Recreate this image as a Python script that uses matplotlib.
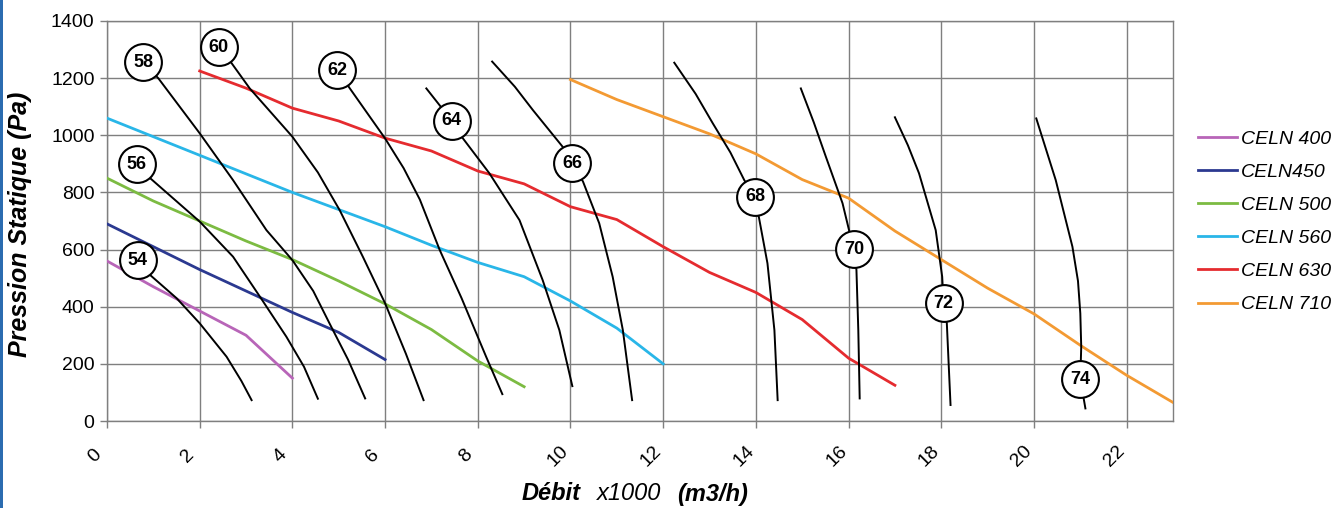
import matplotlib
matplotlib.use("Agg")
import matplotlib.pyplot as plt
import matplotlib.transforms as mtransforms
from matplotlib.patches import Rectangle

plt.rcParams['font.family'] = ['Liberation Sans', 'DejaVu Sans']

# ---- fan series (Débit x1000 m3/h, Pression statique Pa) ----
series_names = ["CELN 400", "CELN450", "CELN 500", "CELN 560", "CELN 630", "CELN 710"]
series_colors = ["#b865b8", "#2b3990", "#7cbb42", "#29b6e8", "#e52b2f", "#f39a33"]

celn400_x = [0, 1, 2, 3, 4]
celn400_y = [560, 470, 385, 300, 150]
celn450_x = [0, 1, 2, 3, 4, 5, 6]
celn450_y = [690, 610, 530, 455, 380, 310, 215]
celn500_x = [0, 1, 2, 3, 4, 5, 6, 7, 8, 9]
celn500_y = [850, 770, 700, 630, 565, 490, 410, 320, 210, 120]
celn560_x = [0, 1, 2, 3, 4, 5, 6, 7, 8, 9, 10, 11, 12]
celn560_y = [1060, 995, 930, 865, 800, 740, 680, 615, 555, 505, 420, 325, 200]
celn630_x = [2, 3, 4, 5, 6, 7, 8, 9, 10, 11, 12, 13, 14, 15, 16, 17]
celn630_y = [1225, 1165, 1095, 1050, 990, 945, 875, 830, 750, 705, 610, 520, 450, 355, 220, 125]
celn710_x = [10, 11, 12, 13, 14, 15, 16, 17, 18, 19, 20, 21, 22, 23]
celn710_y = [1195, 1125, 1065, 1005, 935, 845, 780, 665, 565, 465, 375, 265, 160, 65]

series_x = [celn400_x, celn450_x, celn500_x, celn560_x, celn630_x, celn710_x]
series_y = [celn400_y, celn450_y, celn500_y, celn560_y, celn630_y, celn710_y]

# ---- black curves with circled labels ----
curve_labels = ["54", "56", "58", "60", "62", "64", "66", "68", "70", "72", "74"]
c54_x = [0.66, 0.93, 1.5, 2.0, 2.58, 2.9, 3.12]
c54_y = [563, 511, 430, 342, 225, 140, 73]
c56_x = [0.64, 0.93, 2.0, 2.72, 3.3, 3.87, 4.25, 4.55]
c56_y = [898, 850, 698, 575, 435, 295, 190, 78]
c58_x = [0.78, 1.11, 2.0, 2.72, 3.44, 4.0, 4.45, 4.8, 5.2, 5.57]
c58_y = [1255, 1199, 1007, 843, 668, 563, 455, 342, 215, 79]
c60_x = [2.41, 2.69, 3.08, 4.0, 4.55, 5.02, 5.52, 6.0, 6.45, 6.83]
c60_y = [1308, 1252, 1164, 995, 870, 738, 575, 412, 235, 73]
c62_x = [4.97, 5.24, 6.0, 6.4, 6.75, 7.18, 7.65, 8.18, 8.53]
c62_y = [1228, 1164, 989, 885, 775, 598, 430, 225, 94]
c64_x = [6.89, 7.44, 7.68, 8.25, 8.9, 9.4, 9.76, 10.04]
c64_y = [1164, 1051, 989, 867, 703, 493, 318, 122]
c66_x = [8.31, 8.8, 9.19, 9.83, 10.04, 10.27, 10.62, 10.91, 11.13, 11.33]
c66_y = [1258, 1170, 1088, 960, 902, 838, 692, 505, 318, 73]
c68_x = [12.24, 12.7, 13.07, 13.45, 13.75, 13.98, 14.07, 14.25, 14.4, 14.47]
c68_y = [1254, 1145, 1042, 940, 843, 785, 709, 552, 318, 73]
c70_x = [14.97, 15.25, 15.51, 15.87, 16.01, 16.12, 16.17, 16.21, 16.24]
c70_y = [1164, 1045, 925, 762, 668, 601, 528, 318, 79]
c72_x = [17.0, 17.28, 17.52, 17.88, 18.02, 18.05, 18.12, 18.2]
c72_y = [1063, 965, 867, 668, 505, 412, 342, 56]
c74_x = [20.05, 20.47, 20.83, 20.95, 21.0, 21.02, 21.0, 21.11]
c74_y = [1059, 843, 610, 490, 377, 260, 147, 44]

curves_x = [c54_x, c56_x, c58_x, c60_x, c62_x, c64_x, c66_x, c68_x, c70_x, c72_x, c74_x]
curves_y = [c54_y, c56_y, c58_y, c60_y, c62_y, c64_y, c66_y, c68_y, c70_y, c72_y, c74_y]
# which point of each curve carries the circled label
label_idx = [0, 0, 0, 0, 0, 1, 4, 5, 5, 5, 6]

x_ticks = [0, 2, 4, 6, 8, 10, 12, 14, 16, 18, 20, 22]
y_ticks = [0, 200, 400, 600, 800, 1000, 1200, 1400]

fig = plt.figure(figsize=(13.4, 5.08), dpi=100)
ax = fig.add_axes([107/1340, 1-421/508, (1173-107)/1340, (421-21)/508])

ax.set_xlim(0, 23)
ax.set_ylim(0, 1400)
ax.set_xticks(x_ticks)
ax.set_yticks(y_ticks)
ax.grid(True, color="#7f7f7f", linewidth=1.0)
ax.set_axisbelow(True)
for s in ax.spines.values():
    s.set_color("#7f7f7f")
    s.set_linewidth(1.0)
ax.tick_params(axis="both", color="#7f7f7f", length=5, width=1.0)
ax.tick_params(axis="y", labelsize=14, pad=4)
ax.tick_params(axis="x", labelsize=14, pad=20)
shift = mtransforms.ScaledTranslation(-12/100, 0, fig.dpi_scale_trans)
for lab in ax.get_xticklabels():
    lab.set_rotation(45)
    lab.set_ha("center")
    lab.set_va("center")
    lab.set_transform(lab.get_transform() + shift)

handles = []
for name, col, xs, ys in zip(series_names, series_colors, series_x, series_y):
    h, = ax.plot(xs, ys, color=col, linewidth=2.0, zorder=3, solid_joinstyle="round")
    handles.append(h)

for lab, xs, ys, li in zip(curve_labels, curves_x, curves_y, label_idx):
    ax.plot(xs, ys, color="black", linewidth=1.4, zorder=4, solid_joinstyle="round")
    ax.plot([xs[li]], [ys[li]], marker="o", markersize=26.5, markerfacecolor="white",
            markeredgecolor="black", markeredgewidth=1.5, zorder=5, linestyle="none")
    ax.text(xs[li], ys[li], lab, ha="center", va="center", fontsize=13,
            fontweight="bold", zorder=6)

# axis titles
fig.text(20/1340, 1-224/508, "Pression Statique (Pa)", rotation=90, ha="center", va="center",
         fontsize=18, fontweight="bold", fontstyle="italic")
yl = 1-494/508
fig.text(522/1340, yl, "Débit", ha="left", va="center", fontsize=17,
         fontweight="bold", fontstyle="italic")
fig.text(597/1340, yl, "x1000", ha="left", va="center", fontsize=17, fontstyle="italic")
fig.text(677/1340, yl, "(m3/h)", ha="left", va="center", fontsize=17,
         fontweight="bold", fontstyle="italic")

leg = fig.legend(handles, series_names, loc="upper left",
                 bbox_to_anchor=(1198/1340, 1-130/508), frameon=False,
                 borderpad=0, borderaxespad=0, handlelength=2.0, handletextpad=0.2,
                 labelspacing=0.8, prop={"size": 14, "style": "italic"})

# thin blue border at the left edge
fig.patches.append(Rectangle((0, 0), 2.5/1340, 1, transform=fig.transFigure,
                             facecolor="#2b6cb0", edgecolor="none"))

fig.savefig("out.png", dpi=100)
